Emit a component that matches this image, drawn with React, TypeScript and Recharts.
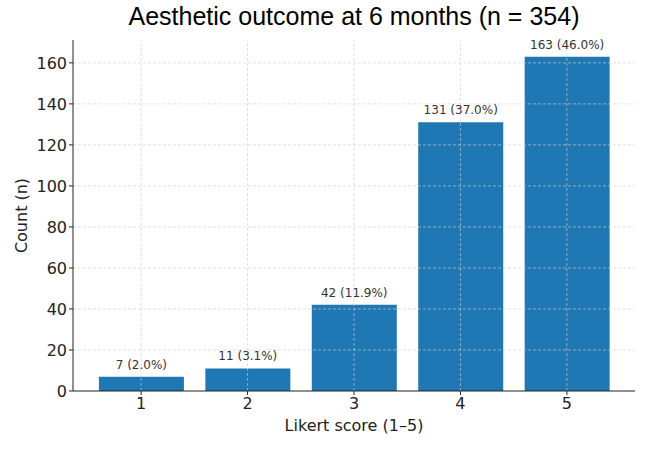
import { Bar, BarChart, LabelList, ReferenceLine, XAxis, YAxis } from "recharts"

// Likert responses at 6 months
const scores = [1, 2, 3, 4, 5]
const counts = [7, 11, 42, 131, 163]
const total = 354
const yTicks = [0, 20, 40, 60, 80, 100, 120, 140, 160]

const data = scores.map((score, i) => ({
  score,
  count: counts[i],
  label: `${counts[i]} (${((counts[i] / total) * 100).toFixed(1)}%)`,
}))

const font = "'DejaVu Sans', sans-serif"
const tickStyle = { fontSize: 16, fill: "#222", fontFamily: font }
const gridProps = { stroke: "#cccccc", strokeDasharray: "3 2", strokeWidth: 0.8, strokeOpacity: 0.8 }

export default function App() {
  return (
    <div style={{ position: "absolute", left: 0, top: 0, width: 650, height: 450, background: "#fff" }}>
      <div
        style={{
          position: "absolute",
          left: 73,
          width: 562,
          top: 2,
          textAlign: "center",
          fontFamily: "'Liberation Sans', Arial, sans-serif",
          fontSize: 25,
          color: "#000",
        }}
      >
        Aesthetic outcome at 6 months (n = 354)
      </div>
      <BarChart width={650} height={450} data={data} margin={{ top: 40, right: 15, bottom: 29, left: 13 }}>
        <XAxis
          dataKey="score"
          type="number"
          domain={[0.36, 5.64]}
          ticks={scores}
          allowDataOverflow
          tick={tickStyle}
          tickSize={4}
          tickMargin={3}
          height={30}
          stroke="#222"
          label={{ value: "Likert score (1–5)", position: "insideBottom", offset: -10, fontSize: 16, fill: "#222", fontFamily: font }}
        />
        <YAxis
          type="number"
          domain={[0, 171.15]}
          ticks={yTicks}
          allowDataOverflow
          tick={tickStyle}
          tickSize={4}
          tickMargin={2}
          width={60}
          stroke="#222"
          label={{ value: "Count (n)", angle: -90, position: "insideLeft", offset: 8, fontSize: 16, fill: "#222", fontFamily: font, style: { textAnchor: "middle" } }}
        />
        <Bar dataKey="count" fill="#1f77b4" barSize={85} isAnimationActive={false}>
          <LabelList dataKey="label" position="top" offset={8} fill="#333" fontSize={12} fontFamily={font} />
        </Bar>
        {scores.map((s) => (
          <ReferenceLine key={`x${s}`} x={s} {...gridProps} />
        ))}
        {yTicks.slice(1).map((t) => (
          <ReferenceLine key={`y${t}`} y={t} {...gridProps} />
        ))}
      </BarChart>
    </div>
  )
}
